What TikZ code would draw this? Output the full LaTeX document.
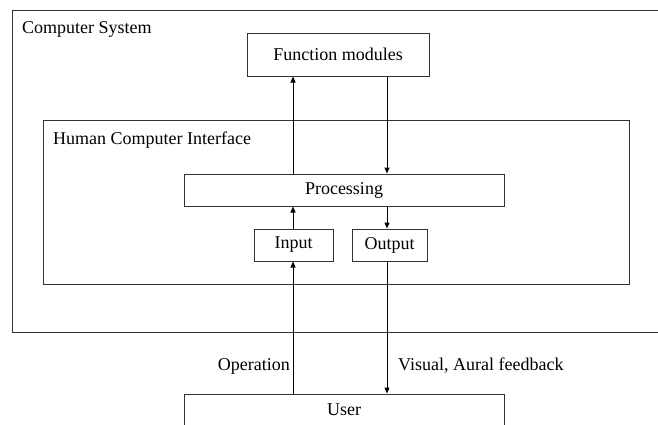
\documentclass[tikz,border=0pt]{standalone}
\usepackage{fontspec}
\setmainfont{Liberation Serif}
\usetikzlibrary{arrows.meta}

\tikzset{
	box/.style={draw=black!80, line width=1pt, inner sep=0pt, minimum height=32pt},
	flow/.style={-{Triangle[length=6pt,width=5pt]}, line width=1pt},
	lbl/.style={inner sep=0pt},
}

\begin{document}
\begin{tikzpicture}[x=1pt,y=-1pt,font=\fontsize{18}{22}\selectfont]
	\useasboundingbox (0,0) rectangle (658,424);
	\clip (0,0) rectangle (658,424);
	% Computer system frame, open at the right
	\draw[black!80,line width=1pt] (670,10) -- (12,10) -- (12,332) -- (670,332);
	\node[lbl,anchor=base west] (cs) at (22,33) {Computer System};
	% Boxes
	\node[box,minimum width=182pt,minimum height=43pt] (fm) at (338,54.5) {Function modules};
	\node[box,minimum width=586pt,minimum height=164pt] (hci) at (336,202) {};
	\node[lbl,anchor=base west] (hcil) at (53,144) {Human Computer Interface};
	\node[box,minimum width=320pt] (proc) at (344,190) {Processing};
	\node[box,minimum width=79pt] (inp) at (293.5,245) {Input};
	\node[box,minimum width=75pt] (outp) at (389.5,245) {Output};
	\node[box,minimum width=320pt,minimum height=40pt] (user) at (344,414) {};
	\node[lbl] (userl) at (344,410) {User};
	% Arrow columns
	\coordinate (lx) at (293,0);
	\coordinate (rx) at (387,0);
	\draw[flow] (proc.north -| lx) -- (fm.south -| lx);
	\draw[flow] (fm.south -| rx) -- (proc.north -| rx);
	\draw[flow] (inp.north -| lx) -- (proc.south -| lx);
	\draw[flow] (proc.south -| rx) -- (outp.north -| rx);
	\draw[flow] (user.north -| lx) -- (inp.south -| lx);
	\draw[flow] (outp.south -| rx) -- (user.north -| rx);
	% Labels on the user arrows
	\node[lbl,anchor=base east] (op) at (290,370) {Operation};
	\node[lbl,anchor=base west] (fb) at (398,370) {Visual, Aural feedback};
\end{tikzpicture}
\end{document}
